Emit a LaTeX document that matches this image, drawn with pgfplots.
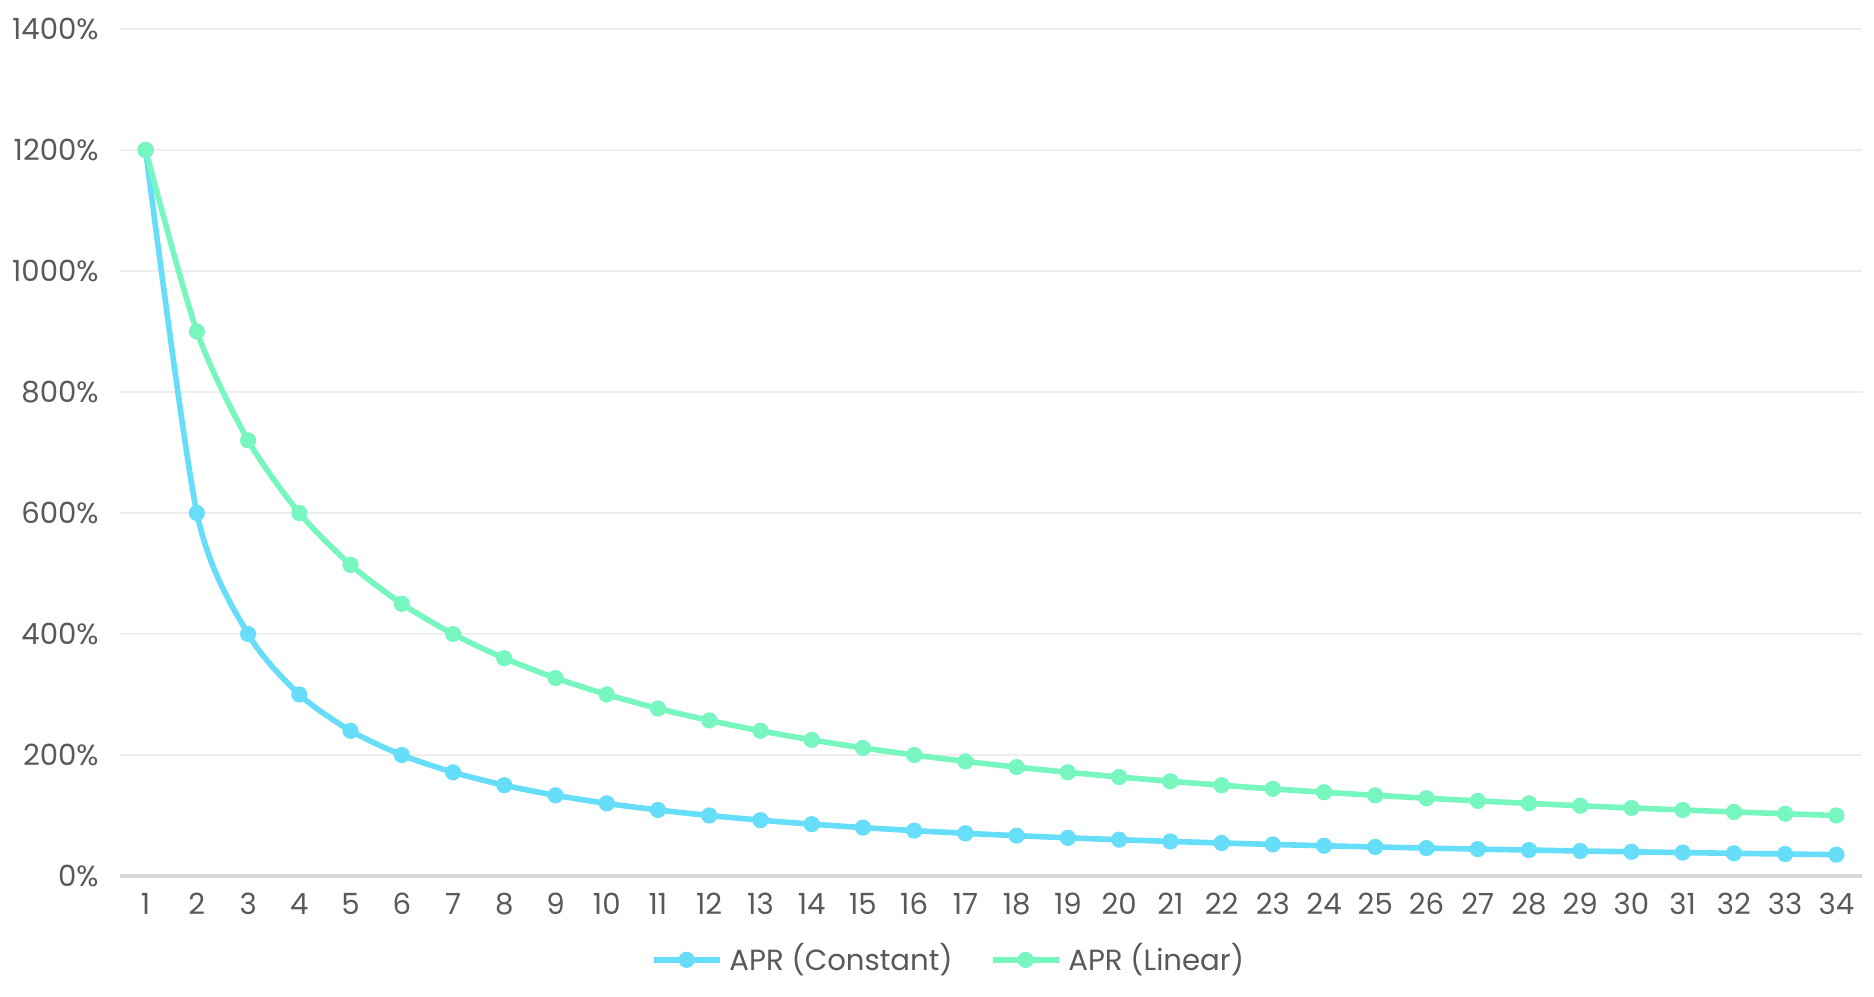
\documentclass[border=0pt]{standalone}
\usepackage{pgfplots}
\pgfplotsset{compat=1.18}
\usepackage{fontspec}
\setmainfont{Poppins}
\definecolor{cconst}{HTML}{66DDF9}
\definecolor{clin}{HTML}{77F7BF}
\definecolor{ctext}{HTML}{595959}
\definecolor{cgrid}{HTML}{EEEEEE}
\definecolor{caxis}{HTML}{D9D9D9}
\begin{document}
\begin{tikzpicture}
\useasboundingbox (0,0) rectangle (18.74cm,9.96cm);
\begin{axis}[
  at={(1.20cm,1.20cm)}, anchor=south west,
  scale only axis, width=17.42cm, height=8.47cm,
  xmin=0.5, xmax=34.5, ymin=0, ymax=1400,
  xtick={1,...,34}, ytick={0,200,...,1400},
  yticklabels={0\%,200\%,400\%,600\%,800\%,1000\%,1200\%,1400\%},
  /pgf/number format/assume math mode=true,
  tick label style={font=\fontsize{8.3pt}{10pt}\selectfont, text=ctext},
  major tick length=0pt,
  ymajorgrids, grid style={draw=cgrid, line width=0.75pt},
  axis x line*=bottom, axis y line*=left,
  x axis line style={draw=caxis, line width=1pt, -},
  y axis line style={draw=none},
  yticklabel style={xshift=-0.09cm},
  xticklabel style={yshift=-0.05cm},
  clip=false,
  legend style={draw=none, fill=none, at={(0.477,-0.099)}, anchor=center,
    legend columns=2, font=\fontsize{8.3pt}{10pt}\selectfont, text=ctext,
    /tikz/every even column/.append style={column sep=0.3cm},
    nodes={inner xsep=0.07cm}},
  legend cell align=left,
  legend image code/.code={%
    \draw[mark repeat=2, mark phase=2] plot coordinates {(0cm,0cm) (0.33cm,0cm) (0.66cm,0cm)};},
  every axis plot/.append style={line width=1.6pt, mark=*, mark size=2pt, smooth, tension=0.45},
]
\addplot[color=cconst, mark options={fill=cconst, draw=cconst, line width=0.6pt}] coordinates {
(1,1200) (2,600) (3,400) (4,300) (5,240) (6,200) (7,171.43) (8,150) (9,133.33) (10,120)
(11,109.09) (12,100) (13,92.31) (14,85.71) (15,80) (16,75) (17,70.59) (18,66.67) (19,63.16) (20,60)
(21,57.14) (22,54.55) (23,52.17) (24,50) (25,48) (26,46.15) (27,44.44) (28,42.86) (29,41.38) (30,40)
(31,38.71) (32,37.5) (33,36.36) (34,35.29)};
\addlegendentry{APR (Constant)}
\addplot[color=clin, mark options={fill=clin, draw=clin, line width=0.6pt}] coordinates {
(1,1200) (2,900) (3,720) (4,600) (5,514.29) (6,450) (7,400) (8,360) (9,327.27) (10,300)
(11,276.92) (12,257.14) (13,240) (14,225) (15,211.76) (16,200) (17,189.47) (18,180) (19,171.43) (20,163.64)
(21,156.52) (22,150) (23,144) (24,138.46) (25,133.33) (26,128.57) (27,124.14) (28,120) (29,116.13) (30,112.5)
(31,109.09) (32,105.88) (33,102.86) (34,100)};
\addlegendentry{APR (Linear)}
\end{axis}
\end{tikzpicture}
\end{document}
